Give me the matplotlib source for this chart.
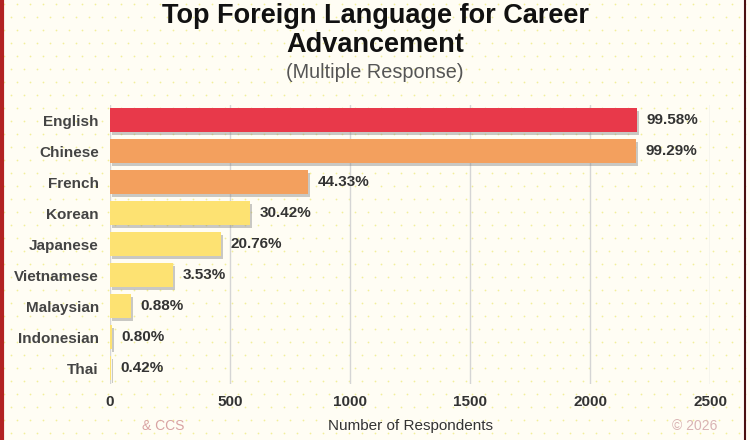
import matplotlib
matplotlib.use('Agg')
from matplotlib import pyplot as plt
from matplotlib import patheffects as pe
import numpy as np

plt.rcParams['font.family'] = ['Liberation Sans', 'DejaVu Sans']

languages = ['English', 'Chinese', 'French', 'Korean', 'Japanese',
             'Vietnamese', 'Malaysian', 'Indonesian', 'Thai']
respondents = [2196, 2190, 825, 583, 462, 264, 87, 8, 2]
pct_labels = ['99.58%', '99.29%', '44.33%', '30.42%', '20.76%',
              '3.53%', '0.88%', '0.80%', '0.42%']
bar_colors = ['#E8394A', '#F3A05E', '#F3A05E', '#FDE272', '#FDE272',
              '#FDE272', '#FDE272', '#FDE272', '#FDE272']
x_ticks = [0, 500, 1000, 1500, 2000, 2500]

fig = plt.figure(figsize=(7.5, 4.4), dpi=100)
fig.patch.set_facecolor('#FFFDF4')

# dotted background
bg = fig.add_axes([0, 0, 1, 1], zorder=-10)
bg.set_xlim(0, 750)
bg.set_ylim(440, 0)
bg.axis('off')
dx, dy = 13, 13
xs, ys = [], []
for j, yy in enumerate(np.arange(4, 440, dy)):
    off = 6.5 if j % 2 else 0
    for xx in np.arange(4 + off, 750, dx):
        xs.append(xx)
        ys.append(yy)
bg.scatter(xs, ys, s=1.6, color='#F2EE9A', linewidths=0)
bg.plot([1.5, 1.5], [0, 440], color='#B22222', lw=3)
bg.plot([745, 745], [0, 440], color='#4A1010', lw=1.5)

ax = fig.add_axes([0.1467, 0.128, 0.8, 0.634])
ax.patch.set_alpha(0)
y = np.arange(len(languages))
bars = ax.barh(y, respondents, height=0.78, color=bar_colors, zorder=3)
for b in bars:
    b.set_path_effects([pe.SimplePatchShadow(offset=(1.5, -2), shadow_rgbFace='#888888', alpha=0.45),
                        pe.Normal()])

for i, (v, lab) in enumerate(zip(respondents, pct_labels)):
    ax.text(v + 40, i, lab, va='center', ha='left', fontsize=11,
            fontweight='bold', color='#333333', zorder=4)

ax.set_ylim(len(languages) - 0.5, -0.5)
ax.set_xlim(0, 2500)
ax.set_yticks(y)
ax.set_yticklabels(languages, fontsize=11, fontweight='bold', color='#444444')
ax.set_xticks(x_ticks)
ax.set_xticklabels([str(t) for t in x_ticks], fontsize=11, fontweight='bold', color='#333333')
ax.tick_params(axis='both', length=0, pad=8)
ax.tick_params(axis='x', pad=8)
ax.grid(axis='x', color='#D5D5D5', lw=1, zorder=0)
for s in ax.spines.values():
    s.set_visible(False)
ax.set_xlabel('Number of Respondents', fontsize=11, color='#333333', labelpad=7)

fig.text(0.5, 1 - 16 / 440, 'Top Foreign Language for Career', ha='center', va='center',
         fontsize=19.5, fontweight='bold', color='#111111')
fig.text(0.5, 1 - 45 / 440, 'Advancement', ha='center', va='center',
         fontsize=19.5, fontweight='bold', color='#111111')
fig.text(0.5, 1 - 72 / 440, '(Multiple Response)', ha='center', va='center',
         fontsize=14.3, color='#555555')
fig.text(0.19, 0.015, '& CCS', ha='left', va='bottom', fontsize=10, color='#D9A3A3')
fig.text(0.957, 0.015, '\u00a9 2026', ha='right', va='bottom', fontsize=10, color='#D9B3B3')

fig.savefig('out.png', dpi=100, facecolor=fig.get_facecolor())
